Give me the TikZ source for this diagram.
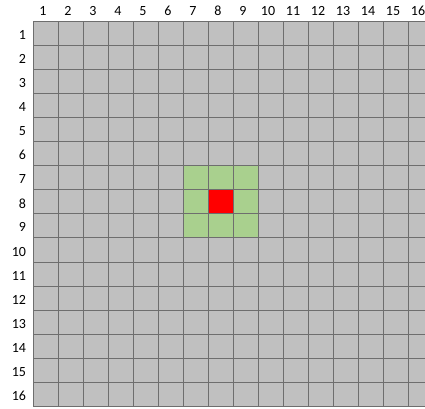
\documentclass[tikz,border=0pt]{standalone}
\usepackage{fontspec}
\setmainfont{Carlito}

\definecolor{cellgray}{RGB}{192,192,192}
\definecolor{cellgreen}{RGB}{169,208,142}
\definecolor{cellred}{RGB}{255,0,0}
\definecolor{gridline}{RGB}{110,110,110}

\begin{document}
\begin{tikzpicture}[x=1pt,y=-1pt,line width=0.9pt,
    lbl/.style={font=\fontsize{14}{14}\selectfont,inner sep=0pt}]
  \useasboundingbox (0,0) rectangle (425,408);
  \clip (0,0) rectangle (425,408);
  % celdas (fondo gris)
  \fill[cellgray] (33,21) rectangle (433,406.6);
  % vecindad (verde) y celda central (roja)
  \fill[cellgreen] (183,165.6) rectangle (258,237.9);
  \fill[cellred] (208,189.7) rectangle (233,213.8);
  % rejilla
  \foreach \i in {0,...,16}
    \draw[gridline] ({33+25*\i},21) -- ({33+25*\i},406.6);
  \foreach \j in {0,...,16}
    \draw[gridline] (33,{21+24.1*\j}) -- (433,{21+24.1*\j});
  % encabezados de columnas y filas
  \foreach \k in {1,...,16}{
    \node[lbl] (col\k) at ({33+25*\k-15},11) {\k};
    \node[lbl,anchor=east] (row\k) at (26.5,{21+24.1*\k-10.5}) {\k};
  }
\end{tikzpicture}
\end{document}
